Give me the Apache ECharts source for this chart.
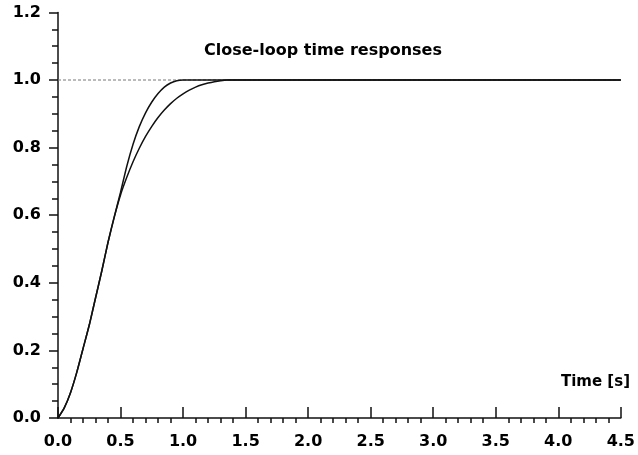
<!DOCTYPE html>
<html>
<head>
<meta charset="utf-8">
<script src="https://cdn.jsdelivr.net/npm/echarts@6/dist/echarts.min.js"></script>
<style>
html,body{margin:0;padding:0;background:#fff;}
#c{width:638px;height:455px;}
</style>
</head>
<body>
<div id="c"></div>
<script>
// Time samples (s) and responses
const timeA = [0,0.05,0.1,0.15,0.2,0.25,0.3,0.35,0.4,0.45,0.5,0.55,0.6,0.65,0.7,0.75,0.8,0.85,0.9,0.95,1.0,4.5];
const respA = [0,0.03,0.075,0.135,0.205,0.275,0.355,0.435,0.52,0.595,0.668,0.745,0.81,0.862,0.903,0.935,0.96,0.979,0.991,0.998,1.0,1.0];
const timeB = [0,0.05,0.1,0.15,0.2,0.25,0.3,0.35,0.4,0.45,0.5,0.55,0.6,0.65,0.7,0.75,0.8,0.85,0.9,0.95,1.0,1.05,1.1,1.15,1.2,1.25,1.3,1.35,4.5];
const respB = [0,0.03,0.075,0.135,0.205,0.275,0.355,0.435,0.52,0.595,0.66,0.712,0.758,0.798,0.833,0.863,0.889,0.911,0.93,0.946,0.959,0.97,0.979,0.986,0.991,0.995,0.998,1.0,1.0];
const refTime = [0,4.5];
const refValue = [1.0,1.0];
const xTicks = [0,0.5,1.0,1.5,2.0,2.5,3.0,3.5,4.0,4.5];
const yTicks = [0,0.2,0.4,0.6,0.8,1.0,1.2];
const titleText = 'Close-loop time responses';
const xName = 'Time [s]';

const minorX = [];
for (let i = 0; i <= 45; i++) { if (i % 5 !== 0) minorX.push(i / 10); }

const pair = (xs, ys) => xs.map((x, i) => [x, ys[i]]);
const F = 'DejaVu Sans';
const chart = echarts.init(document.getElementById('c'), null, {renderer: 'canvas'});
chart.setOption({
  animation: false,
  backgroundColor: '#fff',
  title: {
    text: titleText, left: 318, top: 38, textAlign: 'center',
    textStyle: {fontFamily: F, fontWeight: 'bold', fontSize: 16, color: '#000'}
  },
  graphic: [{
    type: 'text', right: 8, top: 375,
    style: {text: xName, fontFamily: F, fontWeight: 'bold', fontSize: 15, fill: '#000'}
  }],
  grid: {left: 58, right: 9.5, top: 12.4, bottom: 37},
  xAxis: [{
    type: 'value', min: 0, max: 4.5, interval: 0.5,
    axisLine: {show: true, onZero: false, lineStyle: {color: '#111', width: 1.5}},
    axisTick: {show: true, inside: true, length: 11, lineStyle: {color: '#111', width: 1.5}},
    axisLabel: {margin: 16, fontFamily: F, fontWeight: 'bold', fontSize: 16, color: '#000',
      formatter: v => v.toFixed(1)},
    splitLine: {show: false}
  }, {
    type: 'value', min: 0, max: 4.5, position: 'bottom',
    axisLine: {show: false},
    axisTick: {show: true, inside: false, length: 5, customValues: minorX, lineStyle: {color: '#111', width: 1.5}},
    axisLabel: {show: false},
    splitLine: {show: false}
  }],
  yAxis: {
    type: 'value', min: 0, max: 1.2, interval: 0.2,
    axisLine: {show: true, onZero: false, lineStyle: {color: '#111', width: 1.5}},
    axisTick: {show: true, inside: false, length: 9, lineStyle: {color: '#111', width: 1.5}},
    minorTick: {show: true, splitNumber: 4, length: 6, lineStyle: {color: '#111', width: 1.5}},
    axisLabel: {margin: 17, fontFamily: F, fontWeight: 'bold', fontSize: 16, color: '#000',
      formatter: v => v.toFixed(1)},
    splitLine: {show: false}, minorSplitLine: {show: false}
  },
  series: [{
    type: 'line', data: pair(refTime, refValue), symbol: 'none',
    lineStyle: {color: '#777', width: 1, type: [3, 2]}, z: 1
  }, {
    type: 'line', data: pair(timeB, respB), symbol: 'none', smooth: 0.2,
    lineStyle: {color: '#111', width: 1.5}, z: 2
  }, {
    type: 'line', data: pair(timeA, respA), symbol: 'none', smooth: 0.2,
    lineStyle: {color: '#111', width: 1.5}, z: 3
  }]
});
</script>
</body>
</html>
